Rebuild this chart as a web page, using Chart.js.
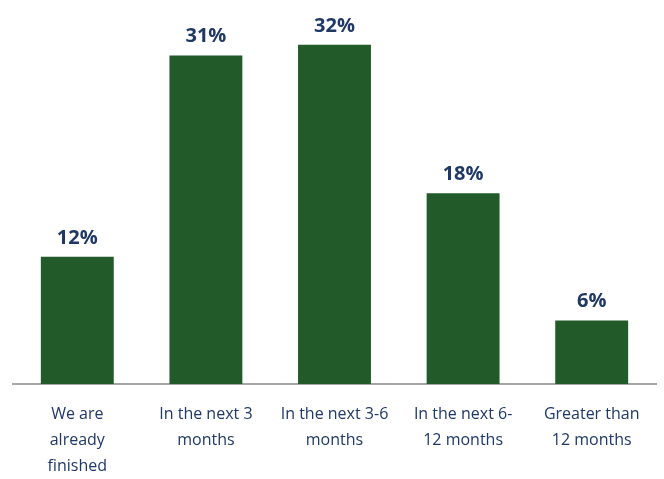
<!DOCTYPE html>
<html>
<head>
<meta charset="utf-8">
<script src="https://cdn.jsdelivr.net/npm/chart.js@4/dist/chart.umd.min.js"></script>
<style>
  html, body { margin: 0; padding: 0; background: #fff; }
  #wrap { width: 664px; height: 479px; }
</style>
</head>
<body>
<div id="wrap"><canvas id="c"></canvas></div>
<script>
const categories = [
  ['We are', 'already', 'finished'],
  ['In the next 3', 'months'],
  ['In the next 3-6', 'months'],
  ['In the next 6-', '12 months'],
  ['Greater than', '12 months']
];
const shares = [12, 31, 32, 18, 6];

const barColor = '#225a2a';
const textColor = '#1f3864';

// percentage labels above each bar
const valueLabels = {
  id: 'valueLabels',
  afterDatasetsDraw(chart) {
    const ctx = chart.ctx;
    const meta = chart.getDatasetMeta(0);
    ctx.save();
    ctx.font = 'bold 20px "Open Sans"';
    ctx.fillStyle = textColor;
    ctx.textAlign = 'center';
    ctx.textBaseline = 'alphabetic';
    meta.data.forEach((bar, i) => {
      ctx.fillText(shares[i] + '%', bar.x, bar.y - 13);
    });
    ctx.restore();
  }
};

new Chart(document.getElementById('c'), {
  type: 'bar',
  data: {
    labels: categories,
    datasets: [{
      data: shares,
      backgroundColor: barColor,
      categoryPercentage: 1,
      barPercentage: 0.567
    }]
  },
  options: {
    responsive: true,
    maintainAspectRatio: false,
    animation: false,
    layout: { padding: { left: 13, right: 8, top: 13, bottom: 0 } },
    plugins: {
      legend: { display: false },
      tooltip: { enabled: false }
    },
    scales: {
      x: {
        grid: { display: false, drawTicks: false },
        border: { display: true, color: '#a6a6a6', width: 2 },
        ticks: {
          color: textColor,
          font: { family: '"Open Sans"', size: 16, lineHeight: '26px' },
          padding: 17,
          maxRotation: 0,
          autoSkip: false
        },
        // fixed band under the axis for the three-line labels
        afterFit(scale) {
          scale.height = 95;
        }
      },
      y: {
        display: false,
        min: 0,
        max: 35
      }
    }
  },
  plugins: [valueLabels]
});
</script>
</body>
</html>
